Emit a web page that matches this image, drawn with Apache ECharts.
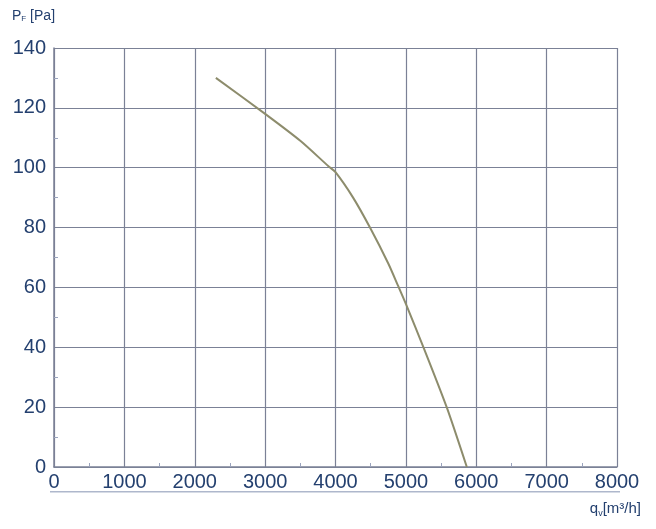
<!DOCTYPE html>
<html><head><meta charset="utf-8">
<script src="https://cdn.jsdelivr.net/npm/echarts@6/dist/echarts.min.js"></script>
<style>html,body{margin:0;padding:0;background:#fff}#c{width:656px;height:529px}</style>
</head><body><div id="c"></div>
<script>
const flowValues = [2300, 3000, 3500, 3900, 4000, 4250, 4490, 4750, 4890, 5000, 5250, 5580, 5866];
const pressureValues = [130, 118, 109, 100.5, 98.5, 90, 80, 68, 60.5, 54.5, 40, 20, 0];
const xTicks = [0, 1000, 2000, 3000, 4000, 5000, 6000, 7000, 8000];
const yTicks = [0, 20, 40, 60, 80, 100, 120, 140];

const textColor = '#24406f';
const gridColor = '#7b8196';
const chart = echarts.init(document.getElementById('c'));
chart.setOption({
  animation: false,
  backgroundColor: '#fff',
  grid: {left: 54, right: 39, top: 48, bottom: 62},
  xAxis: {
    type: 'value', min: xTicks[0], max: xTicks[xTicks.length-1], interval: 1000,
    axisLine: {show: true, lineStyle: {color: gridColor, width: 1.5}},
    axisTick: {show: false, inside: true},
    minorTick: {show: true, splitNumber: 2, length: 4, lineStyle: {color: '#9aa3bd'}},
    splitLine: {show: true, lineStyle: {color: gridColor, width: 1.2}},
    axisLabel: {color: textColor, fontFamily: 'Liberation Sans', fontSize: 20, margin: 5,
      formatter: v => String(v)},
    name: '{q|q}{s|v}{q|[m³/h]}', nameLocation: 'end', nameGap: 0,
    nameTextStyle: {align: 'right', verticalAlign: 'top', padding: [33, -24, 0, 0],
      rich: {q: {color: textColor, fontFamily: 'Liberation Sans', fontSize: 15},
             s: {color: textColor, fontFamily: 'Liberation Sans', fontSize: 9, verticalAlign: 'bottom', padding: [9,0,0,0]}}}
  },
  yAxis: {
    type: 'value', min: yTicks[0], max: yTicks[yTicks.length-1], interval: 20,
    axisLine: {show: true, lineStyle: {color: gridColor, width: 1.5}},
    axisTick: {show: false, inside: true},
    minorTick: {show: true, splitNumber: 2, length: 4, lineStyle: {color: '#9aa3bd'}},
    splitLine: {show: true, lineStyle: {color: gridColor, width: 1.2}},
    axisLabel: {color: textColor, fontFamily: 'Liberation Sans', fontSize: 20, margin: 8},
    name: '{q|P}{s|F}{q| [Pa]}', nameLocation: 'end', nameGap: 25,
    nameTextStyle: {align: 'left', padding: [0, 0, 0, -42],
      rich: {q: {color: textColor, fontFamily: 'Liberation Sans', fontSize: 14},
             s: {color: textColor, fontFamily: 'Liberation Sans', fontSize: 8, verticalAlign: 'bottom', padding: [6,0,0,0]}}}
  },
  graphic: [{type: 'rect', left: 50, top: 491, shape: {width: 570, height: 1.5}, style: {fill: '#aeb7cc'}}],
  series: [{
    type: 'line', smooth: 0.25, showSymbol: false,
    data: flowValues.map((x, i) => [x, pressureValues[i]]),
    lineStyle: {color: '#8d8c6c', width: 2}
  }]
});
</script></body></html>
